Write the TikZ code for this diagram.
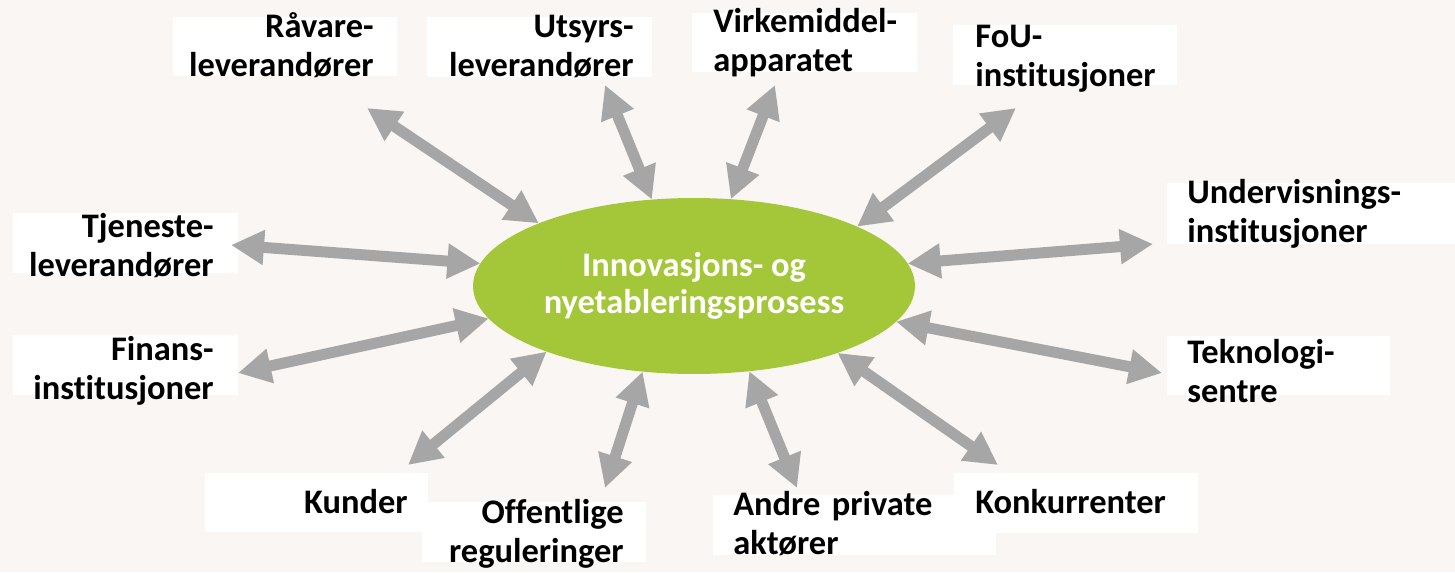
\documentclass[tikz,border=0pt]{standalone}
\usepackage{fontspec}
\setmainfont{Carlito}[Ligatures=NoCommon]
\usetikzlibrary{arrows.meta,shapes}
\definecolor{backdrop}{RGB}{249,246,243}
\definecolor{procgreen}{RGB}{164,198,57}
\definecolor{linkgray}{RGB}{166,166,166}

\begin{document}
\begin{tikzpicture}[x=0.02cm, y=-0.02cm]
      % page size, measured in pixels of the slide
      \fill[backdrop] (0,0) rectangle (1455,572);
      \useasboundingbox (0,0) rectangle (1455,572);
      \tikzstyle{process} = [ellipse, fill=procgreen, text=white, minimum width=8.84cm, minimum height=3.52cm, inner sep=0pt, outer sep=0pt, align=center, font=\bfseries\fontsize{19.6}{20.9}\selectfont]
      \tikzstyle{actor} = [inner sep=0pt, text width=6cm, font=\bfseries\fontsize{19.6}{22.2}\selectfont]
      \tikzstyle{actorR} = [actor, anchor=base east, align=right]
      \tikzstyle{actorL} = [actor, anchor=base west, align=left]
      \tikzstyle{card} = [fill=white]
      \tikzstyle{line} = [draw=linkgray, line width=0.22cm, {Triangle[length=0.66cm,width=0.66cm]}-{Triangle[length=0.66cm,width=0.66cm]}]
        % white cards behind the actors
        \fill[card] (173,17) rectangle (397,76);
        \fill[card] (427,17) rectangle (652,77);
        \fill[card] (692,13) rectangle (917,72);
        \fill[card] (953,25) rectangle (1177,85);
        \fill[card] (13,213) rectangle (238,273);
        \fill[card] (13,335) rectangle (238,395);
        \fill[card] (1167,183) rectangle (1455,244);
        \fill[card] (1167,336) rectangle (1390,395);
        \fill[card] (205,473) rectangle (428,532);
        \fill[card] (422,502) rectangle (646,562);
        \fill[card] (954,473) rectangle (1198,533);
        \fill[card] (713,495) rectangle (996,555);
        \node [process] (proc) at (694,286) {Innovasjons- og\\nyetableringsprosess};
        \node [actorR] (raavare) at (374,37) {Råvare-\\leverandører};
        \node [actorR] (utstyr) at (634,37) {Utsyrs-\\leverandører};
        \node [actorL] (virkemiddel) at (713,32) {Virkemiddel-\\apparatet};
        \node [actorL] (fou) at (975,47) {FoU-\\institusjoner};
        \node [actorR] (tjeneste) at (214,237) {Tjeneste-\\leverandører};
        \node [actorR] (finans) at (214,360) {Finans-\\institusjoner};
        \node [actorL] (undervisning) at (1187,203) {Undervisnings-\\institusjoner};
        \node [actorL] (teknologi) at (1187,363) {Teknologi-\\sentre};
        \node [actorR] (kunder) at (408,513) {Kunder};
        \node [actorR] (offentlige) at (624,523) {Offentlige\\reguleringer};
        \node [actorL] (andre) at (733,515) {Andre private\\aktører};
        \node [actorL] (konkurrent) at (975,513) {Konkurrenter};
        % outer ends of the arrows
        \coordinate (raavare-end) at (367,108);
        \coordinate (utstyr-end) at (605,85);
        \coordinate (virkemiddel-end) at (775,85);
        \coordinate (fou-end) at (1016,108);
        \coordinate (tjeneste-end) at (231,245);
        \coordinate (undervisning-end) at (1153,244);
        \coordinate (finans-end) at (238,373);
        \coordinate (teknologi-end) at (1162,373);
        \coordinate (kunder-end) at (408,465);
        \coordinate (offentlige-end) at (605,488);
        \coordinate (andre-end) at (797,488);
        \coordinate (konkurrent-end) at (998,465);
        \path [line] (proc.158.1) -- (raavare-end);
        \path [line] (proc.116.3) -- (utstyr-end);
        \path [line] (proc.67.8) -- (virkemiddel-end);
        \path [line] (proc.20.8) -- (fou-end);
        \path [line] (proc.174.1) -- (tjeneste-end);
        \path [line] (proc.6) -- (undervisning-end);
        \path [line] (proc.189.9) -- (finans-end);
        \path [line] (proc.350.7) -- (teknologi-end);
        \path [line] (proc.204.9) -- (kunder-end);
        \path [line] (proc.239.6) -- (offentlige-end);
        \path [line] (proc.303.8) -- (andre-end);
        \path [line] (proc.335.9) -- (konkurrent-end);
      \end{tikzpicture}
\end{document}
